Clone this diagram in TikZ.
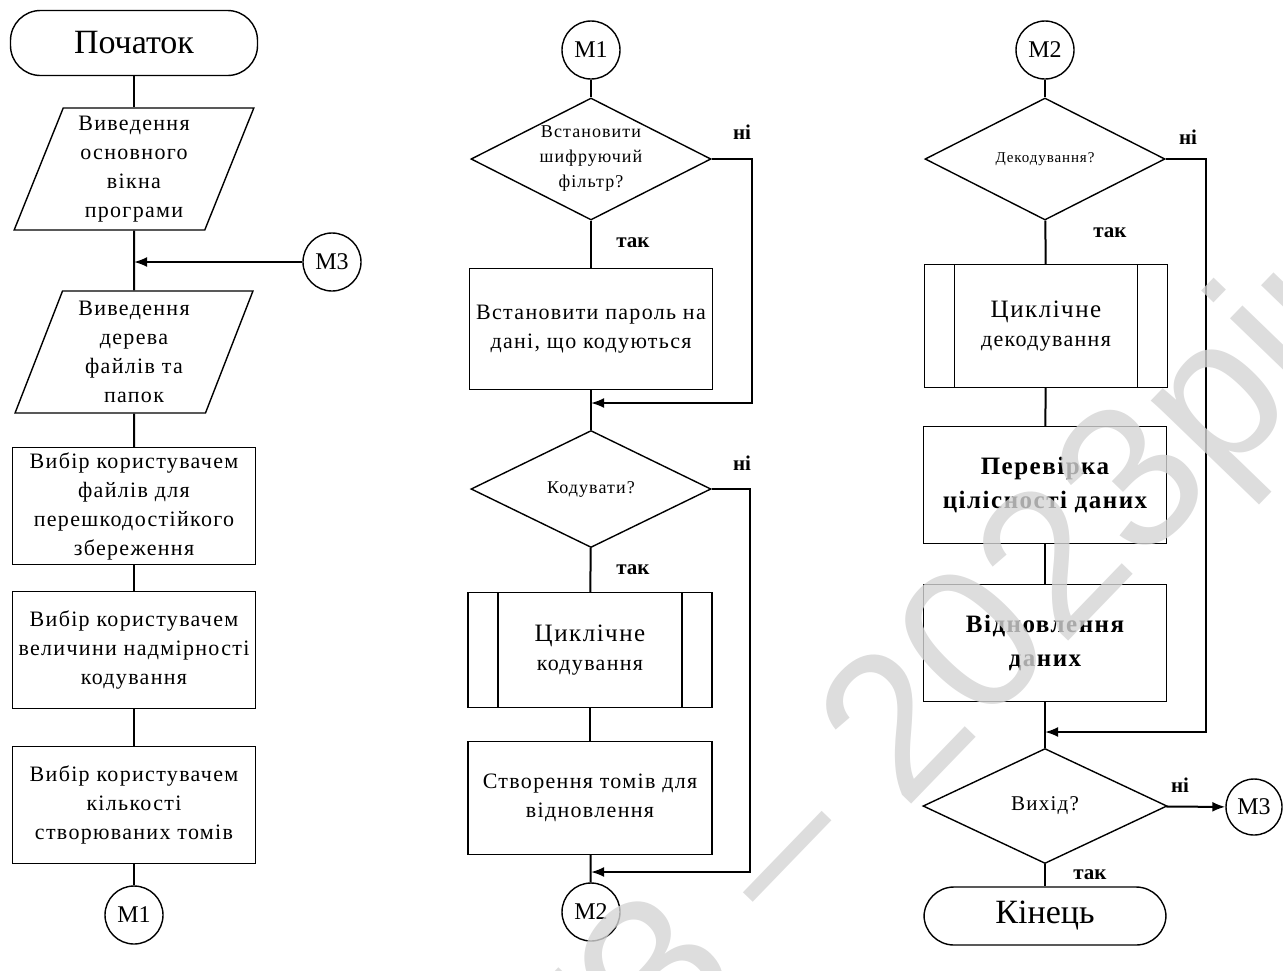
\documentclass[tikz,border=0pt]{standalone}
\usepackage{fontspec}
\setmainfont{Liberation Serif}
\newfontfamily\boxfont{Liberation Serif}[LetterSpace=6]
\newfontfamily\markfont{Liberation Sans}
\usetikzlibrary{shapes.geometric, arrows.meta}
\definecolor{Mark}{HTML}{D4D4D4}
\tikzset{
    term/.style={rectangle, rounded corners=15pt, draw, line width=0.7pt, minimum width=123.5pt, minimum height=32.5pt, font=\fontsize{17}{20}\selectfont},
    iobox/.style={trapezium, trapezium left angle=70, trapezium right angle=110, trapezium stretches=true, draw, line width=0.7pt, minimum width=120pt, minimum height=61pt, inner sep=0pt, align=center, font=\boxfont\fontsize{11}{14.5}\selectfont},
    procbox/.style={rectangle, draw, line width=0.7pt, minimum width=121.5pt, minimum height=58.5pt, inner sep=0pt, align=center, font=\boxfont\fontsize{11}{14.5}\selectfont},
    subproc/.style={procbox, path picture={
        \draw[line width=0.7pt] ([xshift=15pt]path picture bounding box.north west) -- ([xshift=15pt]path picture bounding box.south west)
            ([xshift=-15pt]path picture bounding box.north east) -- ([xshift=-15pt]path picture bounding box.south east);}},
    decide/.style={diamond, aspect=2, draw, line width=0.7pt, minimum width=120pt, minimum height=61pt, inner sep=0pt, align=center, font=\boxfont\fontsize{9}{12.5}\selectfont},
    conn/.style={circle, draw, line width=0.7pt, minimum size=29pt, inner sep=0pt, font=\fontsize{12}{12}\selectfont},
    answer/.style={font=\bfseries\fontsize{10.5}{12}\selectfont},
    flow/.style={line width=1pt},
    arrow/.style={flow, -{Latex[length=6.5pt,width=5pt]}},
}
\begin{document}
\begin{tikzpicture}[x=0.5pt, y=-0.5pt]
    \clip (0,0) rectangle (1283,970);
    % first column
    \node[term] (start) at (134,43) {Початок};
    \node[iobox] (out1) at (134,169) {Виведення\\основного\\вікна\\програми};
    \node[conn] (m3a) at (332,262) {М3};
    \coordinate (jm3) at (134,262);
    \node[iobox] (out2) at (134,352) {Виведення\\дерева\\файлів та\\папок};
    \node[procbox] (sel1) at (134,506) {Вибір користувачем\\файлів для\\перешкодостійкого\\збереження};
    \node[procbox] (sel2) at (134,650) {Вибір користувачем\\величини надмірності\\кодування};
    \node[procbox] (sel3) at (134,805) {Вибір користувачем\\кількості\\створюваних томів};
    \node[conn] (m1a) at (134,915) {М1};
    \draw[flow] (start) -- (out1);
    \draw[flow] (out1) -- (out2);
    \draw[arrow] (m3a) -- (jm3);
    \draw[flow] (out2) -- (sel1);
    \draw[flow] (sel1) -- (sel2);
    \draw[flow] (sel2) -- (sel3);
    \draw[flow] (sel3) -- (m1a);
    % second column
    \node[conn] (m1b) at (591,50) {М1};
    \node[decide] (q1) at (591,159) {Встановити\\шифруючий\\фільтр?};
    \node[procbox, minimum height=60.5pt] (pass) at (591,329) {Встановити пароль на\\дані, що кодуються};
    \coordinate (j1) at (591,403);
    \node[decide, minimum height=58.5pt] (q2) at (591,489) {Кодувати?};
    \node[subproc, minimum width=122pt, minimum height=57.5pt] (enc) at (590,650) {{\fontsize{12.5}{15}\selectfont Циклічне}\\кодування};
    \node[procbox, minimum width=122pt, minimum height=56.5pt] (vol) at (590,798) {Створення томів для\\відновлення};
    \coordinate (j2) at (591,872);
    \node[conn] (m2a) at (591,912) {М2};
    \node[answer] (no1) at (742,132) {ні};
    \node[answer] (yes1) at (633,243) {так};
    \node[answer] (no2) at (742,463) {ні};
    \node[answer] (yes2) at (633,570) {так};
    \draw[flow] (m1b) -- (q1);
    \draw[flow] (q1) -- (pass);
    \draw[flow] (pass) -- (q2);
    \draw[arrow] (q1.east) -- ++(40,0) |- (j1);
    \draw[flow] (q2) -- (enc);
    \draw[flow] (enc) -- (vol);
    \draw[flow] (vol) -- (m2a);
    \draw[arrow] (q2.east) -- ++(38,0) |- (j2);
    % third column
    \node[conn] (m2b) at (1045,50) {М2};
    \node[decide] (q3) at (1045,159) {{\fontsize{7.5}{9}\selectfont Декодування?}};
    \node[subproc, minimum height=61.5pt] (dec) at (1046,326) {{\fontsize{12.5}{15}\selectfont Циклічне}\\декодування};
    \node[procbox, font=\boxfont\bfseries\fontsize{12.5}{17}\selectfont] (check) at (1045,485) {Перевірка\\цілісності даних};
    \node[procbox, font=\boxfont\bfseries\fontsize{12.5}{17}\selectfont] (rest) at (1045,643) {Відновлення\\даних};
    \coordinate (j3) at (1045,732);
    \node[decide, minimum width=122pt, minimum height=57.5pt, font=\boxfont\fontsize{10.5}{12}\selectfont] (q4) at (1045,806) {Вихід?};
    \node[conn, minimum size=28pt] (m3b) at (1254,807) {М3};
    \node[term, minimum width=121pt, minimum height=29pt] (stop) at (1045,916) {Кінець};
    \node[answer] (no3) at (1188,137) {ні};
    \node[answer] (yes3) at (1110,233) {так};
    \node[answer] (no4) at (1180,785) {ні};
    \node[answer] (yes4) at (1090,875) {так};
    \draw[flow] (m2b) -- (q3);
    \draw[flow] (q3) -- (dec);
    \draw[flow] (dec) -- (check);
    \draw[flow] (check) -- (rest);
    \draw[flow] (rest) -- (q4);
    \draw[arrow] (q3.east) -- ++(40,0) |- (j3);
    \draw[arrow] (q4) -- (m3b);
    \draw[flow] (q4) -- (stop);
    % watermark
    \node[rotate=46, text=Mark, opacity=0.8, font=\markfont\fontsize{102}{102}\selectfont] (mark) at (895,745) {ПТЗ – 2023рік};
\end{tikzpicture}
\end{document}
